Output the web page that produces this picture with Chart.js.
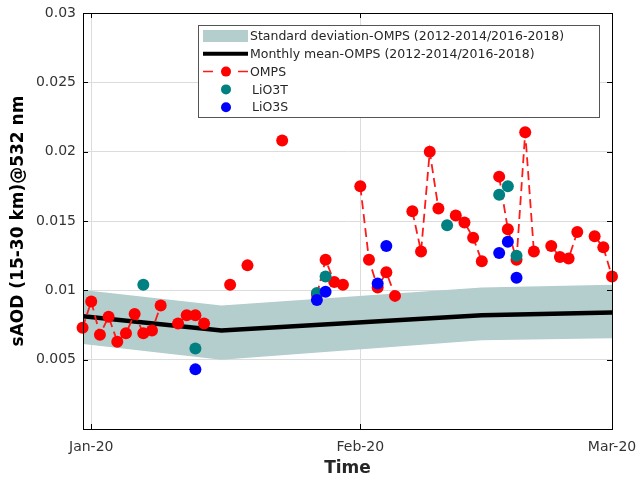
<!DOCTYPE html>
<html>
<head>
<meta charset="utf-8">
<script src="https://cdn.jsdelivr.net/npm/chart.js@4/dist/chart.umd.min.js"></script>
<style>
  html, body { margin: 0; padding: 0; background: #fff; }
  #wrap { width: 641px; height: 484px; }
</style>
</head>
<body>
<div id="wrap"><canvas id="chartSAOD"></canvas></div>
<script>
// days counted from 1 Jan 2020 (0 = Jan 1, 31 = Feb 1, 60 = Mar 1)
const ompsDay = [-1, 0, 1, 2, 3, 4, 5, 6, 7, 8, 10, 11, 12, 13, 16, 18, 22, 26, 27, 28, 29,
  31, 32, 33, 34, 35, 37, 38, 39, 40, 42, 43, 44, 45, 47, 48, 49, 50, 51, 53, 54, 55, 56, 58, 59, 60];
const ompsSaod = [0.0073, 0.0092, 0.0068, 0.0081, 0.0063, 0.0069, 0.0083, 0.0069, 0.0071, 0.0089,
  0.0076, 0.0082, 0.0082, 0.0076, 0.0104, 0.0118, 0.0208, 0.0097, 0.0122, 0.0106, 0.0104,
  0.0175, 0.0122, 0.0102, 0.0113, 0.0096, 0.0157, 0.0128, 0.0200, 0.0159, 0.0154, 0.0149,
  0.0138, 0.0121, 0.0182, 0.0144, 0.0122, 0.0214, 0.0128, 0.0132, 0.0124, 0.0123, 0.0142,
  0.0139, 0.0131, 0.0110];

const lio3tDay = [6, 12, 26, 27, 41, 47, 48, 49];
const lio3tSaod = [0.0104, 0.0058, 0.0098, 0.0110, 0.0147, 0.0169, 0.0175, 0.0125];

const lio3sDay = [12, 26, 27, 33, 34, 47, 48, 49];
const lio3sSaod = [0.0043, 0.0093, 0.0099, 0.0105, 0.0132, 0.0127, 0.0135, 0.0109];

// monthly climatology (mid-month: Dec 16, Jan 16, Feb 15, Mar 16)
const monthDay = [-16, 15, 45, 75];
const monthMean = [0.0091, 0.0071, 0.0082, 0.0086];
const monthUpper = [0.0111, 0.0089, 0.0102, 0.0106];
const monthLower = [0.0072, 0.0050, 0.0064, 0.0067];

const xTickDays = [0, 31, 60];
const xTickLabels = ['Jan-20', 'Feb-20', 'Mar-20'];

const FONT = 'DejaVu Sans';
const bandColor = '#b4cdcd';

const toXY = (xs, ys) => xs.map((x, i) => ({x: x, y: ys[i]}));

// break the dashed line where a day is missing
const ompsLine = [];
ompsDay.forEach((d, i) => {
  if (i > 0 && d - ompsDay[i - 1] > 1) {
    ompsLine.push({x: (d + ompsDay[i - 1]) / 2, y: null});
  }
  ompsLine.push({x: d, y: ompsSaod[i]});
});

const framePlugin = {
  id: 'frame',
  afterDatasetsDraw(chart) {
    const ctx = chart.ctx;
    const a = chart.chartArea;
    ctx.save();
    ctx.strokeStyle = '#000';
    ctx.lineWidth = 1;
    ctx.strokeRect(Math.round(a.left) + 0.5, Math.round(a.top) + 0.5,
      Math.round(a.right - a.left), Math.round(a.bottom - a.top));
    // inward ticks
    const ys = chart.scales.y;
    ys.ticks.forEach(t => {
      const py = Math.round(ys.getPixelForValue(t.value)) + 0.5;
      ctx.beginPath();
      ctx.moveTo(a.left, py); ctx.lineTo(a.left + 5, py);
      ctx.moveTo(a.right, py); ctx.lineTo(a.right - 5, py);
      ctx.stroke();
    });
    const xs = chart.scales.x;
    xs.ticks.forEach(t => {
      const px = Math.round(xs.getPixelForValue(t.value)) + 0.5;
      ctx.beginPath();
      ctx.moveTo(px, a.bottom); ctx.lineTo(px, a.bottom - 5);
      ctx.moveTo(px, a.top); ctx.lineTo(px, a.top + 5);
      ctx.stroke();
    });
    ctx.restore();
  }
};

const legendPlugin = {
  id: 'boxLegend',
  afterDraw(chart) {
    const ctx = chart.ctx;
    const ds = chart.data.datasets;
    const box = {left: 198, top: 25, right: 599, bottom: 117};
    ctx.save();
    ctx.fillStyle = '#fff';
    ctx.fillRect(box.left, box.top, box.right - box.left, box.bottom - box.top);
    ctx.strokeStyle = '#555';
    ctx.lineWidth = 1;
    ctx.strokeRect(box.left + 0.5, box.top + 0.5, box.right - box.left, box.bottom - box.top);

    const rows = [
      {ds: ds[1], kind: 'patch'},
      {ds: ds[2], kind: 'line'},
      {ds: ds[3], kind: 'dashdot'},
      {ds: ds[4], kind: 'dot'},
      {ds: ds[5], kind: 'dot'}
    ];
    const x0 = 203, x1 = 248, xc = 226;
    ctx.font = '12.5px ' + FONT;
    ctx.textBaseline = 'middle';
    rows.forEach((r, i) => {
      const y = 36 + i * 17.8;
      if (r.kind === 'patch') {
        ctx.fillStyle = bandColor;
        ctx.fillRect(x0, y - 6, x1 - x0, 12);
      } else if (r.kind === 'line') {
        ctx.strokeStyle = '#000';
        ctx.lineWidth = 4;
        ctx.beginPath(); ctx.moveTo(x0, y); ctx.lineTo(x1, y); ctx.stroke();
      } else {
        if (r.kind === 'dashdot') {
          ctx.strokeStyle = r.ds.borderColor;
          ctx.lineWidth = 1.5;
          ctx.beginPath();
          ctx.moveTo(x0, y); ctx.lineTo(x0 + 10, y);
          ctx.moveTo(x1 - 10, y); ctx.lineTo(x1, y);
          ctx.stroke();
        }
        ctx.fillStyle = r.ds.pointBackgroundColor;
        ctx.beginPath(); ctx.arc(xc, y, 5, 0, Math.PI * 2); ctx.fill();
      }
      ctx.fillStyle = '#262626';
      ctx.fillText(r.ds.label, r.kind === 'dot' ? 252 : 250, y + 1);
    });
    ctx.restore();
  }
};

const ctx = document.getElementById('chartSAOD').getContext('2d');
const myChart = new Chart(ctx, {
  type: 'line',
  data: {
    datasets: [
      {
        label: 'lower',
        data: toXY(monthDay, monthLower),
        borderWidth: 0,
        pointRadius: 0,
        fill: false,
        clip: 0,
        order: 6
      },
      {
        label: 'Standard deviation-OMPS (2012-2014/2016-2018)',
        data: toXY(monthDay, monthUpper),
        borderWidth: 0,
        pointRadius: 0,
        backgroundColor: bandColor,
        fill: '-1',
        clip: 0,
        order: 5
      },
      {
        label: 'Monthly mean-OMPS (2012-2014/2016-2018)',
        data: toXY(monthDay, monthMean),
        borderColor: '#000',
        borderWidth: 4.5,
        pointRadius: 0,
        fill: false,
        clip: 0,
        order: 3
      },
      {
        label: 'OMPS',
        data: ompsLine,
        borderColor: '#ff1a1a',
        borderWidth: 1.8,
        borderDash: [9, 5],
        pointRadius: 6,
        pointBackgroundColor: '#ff0000',
        pointBorderWidth: 0,
        spanGaps: false,
        fill: false,
        clip: false,
        order: 2
      },
      {
        label: 'LiO3T',
        data: toXY(lio3tDay, lio3tSaod),
        showLine: false,
        pointRadius: 6,
        pointBackgroundColor: '#008080',
        pointBorderWidth: 0,
        clip: false,
        order: 1
      },
      {
        label: 'LiO3S',
        data: toXY(lio3sDay, lio3sSaod),
        showLine: false,
        pointRadius: 6,
        pointBackgroundColor: '#0000ff',
        pointBorderWidth: 0,
        clip: false,
        order: 0
      }
    ]
  },
  options: {
    responsive: true,
    maintainAspectRatio: false,
    animation: false,
    layout: { padding: { top: 13, right: 29, bottom: 0, left: 0 } },
    plugins: {
      legend: { display: false },
      tooltip: { enabled: false }
    },
    scales: {
      x: {
        type: 'linear',
        min: -0.95,
        max: 60,
        afterFit: (scale) => {
          scale.height = 55;
          scale.paddingLeft = 0;
          scale.paddingRight = 0;
        },
        afterBuildTicks: (scale) => { scale.ticks = xTickDays.map(v => ({value: v})); },
        ticks: {
          autoSkip: false,
          maxRotation: 0,
          padding: 10,
          color: '#333',
          font: { family: FONT, size: 14 },
          callback: (v) => xTickLabels[xTickDays.indexOf(v)]
        },
        grid: { color: '#dcdcdc', drawTicks: false },
        border: { display: false },
        title: {
          display: true,
          text: 'Time',
          color: '#262626',
          font: { family: FONT, size: 17, weight: 'bold' },
          padding: { top: 6, bottom: 5 }
        }
      },
      y: {
        min: 0,
        max: 0.03,
        afterFit: (scale) => {
          scale.width = 83;
          scale.paddingTop = 0;
          scale.paddingBottom = 0;
        },
        ticks: {
          stepSize: 0.005,
          padding: 7,
          color: '#333',
          font: { family: FONT, size: 14 },
          callback: (v) => v === 0 ? '' : String(Number(v.toFixed(3)))
        },
        grid: { color: '#dcdcdc', drawTicks: false },
        border: { display: false },
        title: {
          display: true,
          text: 'sAOD (15-30 km)@532 nm',
          color: '#000',
          font: { family: FONT, size: 17, weight: 'bold' },
          padding: { top: 8, bottom: 0 }
        }
      }
    }
  },
  plugins: [framePlugin, legendPlugin]
});
</script>
</body>
</html>
